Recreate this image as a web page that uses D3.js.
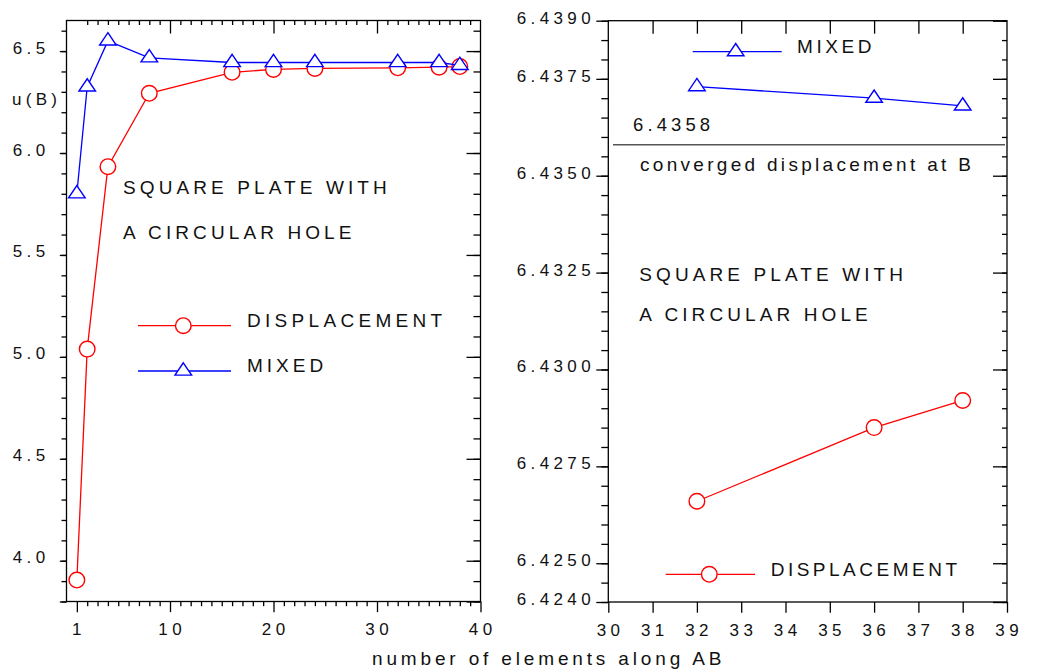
<!DOCTYPE html>
<html>
<head>
<meta charset="utf-8">
<script src="https://cdn.jsdelivr.net/npm/d3@7"></script>
<style>
  body { margin: 0; background: #fff; }
  text { font-family: "Liberation Sans", Arial, sans-serif; fill: #111; }
</style>
</head>
<body>
<svg id="chart"></svg>
<script>
// Left panel: full range of mesh sizes
const elements = [1, 2, 4, 8, 16, 20, 24, 32, 36, 38]
const dispLeft = [3.905, 5.038, 5.933, 6.293, 6.396, 6.410, 6.415, 6.418, 6.421, 6.424]
const mixedLeft = [5.80, 6.324, 6.55, 6.467, 6.444, 6.444, 6.444, 6.444, 6.444, 6.430]

// Right panel: zoom on the finest meshes
const elementsZoom = [32, 36, 38]
const dispZoom = [6.4266, 6.4285, 6.4292]
const mixedZoom = [6.4373, 6.4370, 6.4368]
const converged = 6.4358

// tick labels
const leftXTicks = [1, 10, 20, 30, 40]
const leftYTicks = [4.0, 4.5, 5.0, 5.5, 6.0, 6.5]
const rightXTicks = [30, 31, 32, 33, 34, 35, 36, 37, 38, 39]
const rightYTicks = [6.4240, 6.4250, 6.4275, 6.4300, 6.4325, 6.4350, 6.4375, 6.4390]

const width = 1042
const height = 671
const RED = '#ff0000'
const BLUE = '#0000ff'

const svg = d3.select('#chart')
  .attr('width', width)
  .attr('height', height)

// scales
const xL = d3.scaleLinear().domain([0, 40]).range([66.5, 480.5])
const yL = d3.scaleLinear().domain([3.8, 6.65]).range([601.5, 20.5])
const xR = d3.scaleLinear().domain([30, 39]).range([608.3, 1007])
const yR = d3.scaleLinear().domain([6.424, 6.439]).range([602, 20.7])

const triangle = 'M0,-8.2L8.3,4.1L-8.3,4.1Z'

// draws a set of ticks (no domain line) with a d3 axis
const tickSet = (axisFn, scale, values, size, tx, ty) => {
  const g = svg.append('g')
    .attr('transform', `translate(${tx},${ty})`)
    .call(axisFn(scale).tickValues(values).tickSize(size).tickSizeOuter(0).tickFormat(''))
  g.select('.domain').remove()
  g.selectAll('line').attr('stroke', '#000').attr('stroke-width', 1.3)
  return g
}

const labelSet = (values, fmt, xFn, yFn, anchor) => {
  svg.append('g')
    .selectAll('text')
    .data(values)
    .enter().append('text')
    .attr('x', xFn)
    .attr('y', yFn)
    .attr('text-anchor', anchor)
    .attr('font-size', '17px')
    .attr('letter-spacing', '4.4px')
    .text(fmt)
}

const drawPanel = (x, y, xMajor, xMinor, xTopMajor, yMajor, yMinor, opts) => {
  const [x0, x1] = x.range()
  const [y1, y0] = y.range()
  // bottom (outward)
  tickSet(d3.axisBottom, x, xMinor, 4.7, 0, y1)
  tickSet(d3.axisBottom, x, xMajor, 10.7, 0, y1)
  // top (inward)
  tickSet(d3.axisBottom, x, xMinor, 4.5, 0, y0)
  tickSet(d3.axisBottom, x, xTopMajor, 13, 0, y0)
  // left (outward)
  tickSet(d3.axisLeft, y, yMinor, opts.leftMinor, x0, 0)
  tickSet(d3.axisLeft, y, yMajor, opts.leftMajor, x0, 0)
  // right (inward)
  tickSet(d3.axisLeft, y, yMinor, opts.rightMinor, x1, 0)
  tickSet(d3.axisLeft, y, yMajor, 14, x1, 0)

  svg.append('rect')
    .attr('x', x0).attr('y', y0)
    .attr('width', x1 - x0).attr('height', y1 - y0)
    .attr('fill', 'none')
    .attr('stroke', '#000')
    .attr('stroke-width', 1.3)
}

const drawSeries = (x, y, xs, ys, color, marker) => {
  const pts = xs.map((d, i) => [x(d), y(ys[i])])
  svg.append('path')
    .attr('d', d3.line()(pts))
    .attr('fill', 'none')
    .attr('stroke', color)
    .attr('stroke-width', 1.3)
  const g = svg.append('g')
  pts.forEach(p => {
    if (marker === 'circle') {
      g.append('circle')
        .attr('cx', p[0]).attr('cy', p[1]).attr('r', 7.8)
        .attr('fill', '#fff').attr('stroke', color).attr('stroke-width', 1.4)
    } else {
      g.append('path')
        .attr('d', triangle)
        .attr('transform', `translate(${p[0]},${p[1]})`)
        .attr('fill', '#fff').attr('stroke', color).attr('stroke-width', 1.4)
    }
  })
}

const note = (txt, x, y, size = 19, ls = 4.1) => {
  svg.append('text')
    .attr('x', x).attr('y', y)
    .attr('font-size', `${size}px`)
    .attr('letter-spacing', `${ls}px`)
    .text(txt)
}

const legendItem = (x0, x1, y, mx, color, marker) => {
  svg.append('line')
    .attr('x1', x0).attr('x2', x1).attr('y1', y).attr('y2', y)
    .attr('stroke', color).attr('stroke-width', 1.3)
  if (marker === 'circle') {
    svg.append('circle')
      .attr('cx', mx).attr('cy', y).attr('r', 7.8)
      .attr('fill', '#fff').attr('stroke', color).attr('stroke-width', 1.4)
  } else {
    svg.append('path')
      .attr('d', triangle)
      .attr('transform', `translate(${mx},${y})`)
      .attr('fill', '#fff').attr('stroke', color).attr('stroke-width', 1.4)
  }
}

// ---------- left panel ----------
drawPanel(xL, yL,
  leftXTicks,
  d3.range(2, 40).filter(d => d % 10 !== 0),
  [10, 20, 30],
  [3.8, ...leftYTicks],
  d3.range(38, 67).map(d => d / 10),
  { leftMajor: 6.7, leftMinor: 5, rightMinor: 7 })

labelSet(leftXTicks, d => d, d => xL(d) + 2.2, 635, 'middle')
labelSet(leftYTicks, d3.format('.1f'), 49.5, d => yL(d) + 2.5, 'end')
svg.append('text')
  .attr('x', 12).attr('y', 105)
  .attr('font-size', '17px')
  .attr('letter-spacing', '4.3px')
  .text('u(B)')

drawSeries(xL, yL, elements, dispLeft, RED, 'circle')
drawSeries(xL, yL, elements, mixedLeft, BLUE, 'triangle')

note('SQUARE PLATE WITH', 123, 194)
note('A CIRCULAR HOLE', 123, 239)
legendItem(138, 231, 325.7, 183.3, RED, 'circle')
note('DISPLACEMENT', 247, 327, 19, 4.3)
legendItem(138, 231, 371, 183.3, BLUE, 'triangle')
note('MIXED', 247, 372, 19, 4)

// ---------- right panel ----------
drawPanel(xR, yR,
  rightXTicks,
  [],
  d3.range(31, 39),
  rightYTicks,
  d3.range(0, 31).map(d => 6.424 + d * 0.0005),
  { leftMajor: 12, leftMinor: 7, rightMinor: 5 })

labelSet(rightXTicks, d => d, d => xR(d) + 2.2, 636, 'middle')
labelSet(rightYTicks, d3.format('.4f'), 595.1, d => yR(d) + 3, 'end')

svg.append('line')
  .attr('x1', 613).attr('x2', 1005)
  .attr('y1', yR(converged)).attr('y2', yR(converged))
  .attr('stroke', '#555').attr('stroke-width', 1.5)
note(d3.format('.4f')(converged), 633, 130.5, 18.5, 4.1)
note('converged displacement at B', 640, 170.5, 19, 3.3)

drawSeries(xR, yR, elementsZoom, mixedZoom, BLUE, 'triangle')
drawSeries(xR, yR, elementsZoom, dispZoom, RED, 'circle')

legendItem(692.7, 781.7, 51.7, 735.7, BLUE, 'triangle')
note('MIXED', 797, 53.3, 19, 3.6)
note('SQUARE PLATE WITH', 639.3, 281)
note('A CIRCULAR HOLE', 639.3, 320.7)
legendItem(665.7, 755, 574.3, 709.3, RED, 'circle')
note('DISPLACEMENT', 770.7, 575.7, 19, 3.5)

// shared x title
note('number of elements along AB', 372, 665, 19, 3.85)
</script>
</body>
</html>
